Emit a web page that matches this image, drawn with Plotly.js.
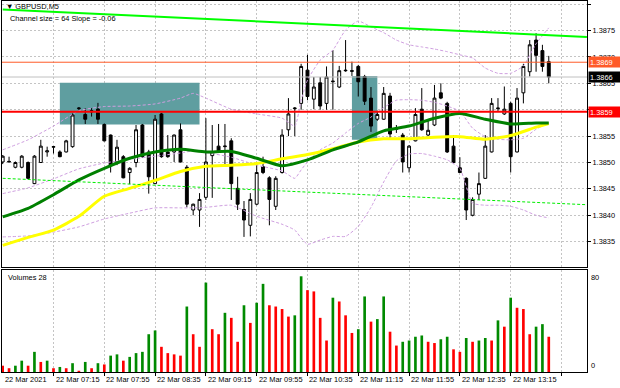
<!DOCTYPE html>
<html><head><meta charset="utf-8">
<script src="https://cdn.plot.ly/plotly-3.0.1.min.js"></script>
<style>html,body{margin:0;padding:0;background:#fff;}#chart{width:620px;height:388px;}</style>
</head><body><div id="chart"></div>
<script>
// ---- candle data (GBPUSD M5, 22 Mar 2021, 06:35 ... 13:45) ----
const barOpen = [1.38501,1.38501,1.38491,1.38491,1.38500,1.38460,1.38500,1.38520,1.38529,1.38520,
1.38520,1.38530,1.38602,1.38591,1.38596,1.38601,1.38572,1.38552,1.38501,1.38511,
1.38481,1.38500,1.38571,1.38520,1.38460,1.38592,1.38520,1.38520,1.38562,1.38491,
1.38410,1.38410,1.38434,1.38513,1.38531,1.38530,1.38541,1.38451,1.38411,1.38381,
1.38421,1.38492,1.38471,1.38417,1.38481,1.38562,1.38602,1.38612,1.38675,1.38620,
1.38651,1.38612,1.38653,1.38643,1.38675,1.38674,1.38682,1.38663,1.38622,1.38582,
1.38582,1.38626,1.38563,1.38552,1.38490,1.38541,1.38601,1.38552,1.38571,1.38632,
1.38612,1.38531,1.38490,1.38470,1.38400,1.38440,1.38470,1.38520,1.38602,1.38592,
1.38612,1.38520,1.38632,1.38672,1.38732,1.38712,1.38691];
const barHigh = [1.38514,1.38511,1.38502,1.38514,1.38502,1.38514,1.38543,1.38530,1.38531,1.38523,
1.38543,1.38593,1.38605,1.38603,1.38603,1.38613,1.38574,1.38553,1.38543,1.38514,
1.38491,1.38571,1.38573,1.38524,1.38590,1.38594,1.38552,1.38553,1.38574,1.38495,
1.38422,1.38442,1.38584,1.38571,1.38573,1.38573,1.38546,1.38473,1.38427,1.38442,
1.38501,1.38511,1.38474,1.38474,1.38563,1.38622,1.38605,1.38687,1.38704,1.38662,
1.38662,1.38682,1.38713,1.38683,1.38732,1.38691,1.38685,1.38666,1.38643,1.38598,
1.38643,1.38632,1.38571,1.38556,1.38533,1.38603,1.38641,1.38579,1.38647,1.38650,
1.38615,1.38552,1.38510,1.38472,1.38434,1.38481,1.38552,1.38622,1.38622,1.38644,
1.38615,1.38641,1.38687,1.38732,1.38745,1.38723,1.38702];
const barLow = [1.38497,1.38500,1.38489,1.38489,1.38469,1.38459,1.38499,1.38511,1.38517,1.38510,
1.38519,1.38528,1.38599,1.38573,1.38587,1.38573,1.38540,1.38481,1.38495,1.38470,
1.38459,1.38491,1.38509,1.38441,1.38459,1.38509,1.38509,1.38501,1.38500,1.38415,
1.38400,1.38378,1.38429,1.38433,1.38519,1.38492,1.38429,1.38410,1.38359,1.38360,
1.38419,1.38478,1.38381,1.38410,1.38479,1.38550,1.38550,1.38600,1.38618,1.38601,
1.38600,1.38600,1.38600,1.38641,1.38672,1.38664,1.38625,1.38609,1.38558,1.38579,
1.38581,1.38543,1.38556,1.38481,1.38481,1.38540,1.38560,1.38550,1.38569,1.38620,
1.38518,1.38497,1.38480,1.38391,1.38398,1.38429,1.38469,1.38519,1.38596,1.38590,
1.38481,1.38519,1.38612,1.38663,1.38672,1.38672,1.38650];
const barClose = [1.38512,1.38502,1.38500,1.38512,1.38470,1.38512,1.38531,1.38522,1.38530,1.38511,
1.38541,1.38590,1.38603,1.38582,1.38598,1.38582,1.38541,1.38495,1.38529,1.38471,
1.38489,1.38562,1.38511,1.38473,1.38582,1.38511,1.38511,1.38552,1.38501,1.38421,
1.38421,1.38430,1.38501,1.38520,1.38520,1.38531,1.38460,1.38421,1.38391,1.38430,
1.38481,1.38481,1.38430,1.38470,1.38552,1.38592,1.38603,1.38682,1.38625,1.38643,
1.38607,1.38662,1.38654,1.38674,1.38674,1.38673,1.38653,1.38616,1.38569,1.38591,
1.38631,1.38554,1.38564,1.38501,1.38531,1.38591,1.38562,1.38561,1.38622,1.38622,
1.38520,1.38500,1.38481,1.38410,1.38430,1.38460,1.38531,1.38612,1.38603,1.38601,
1.38511,1.38622,1.38682,1.38723,1.38703,1.38682,1.38662];
const volume = [5,3,5,9,5,16,8,9,3,4,3,7,1,8,3,7,6,13,14,9,
12,15,16,30,33,20,15,14,13,52,30,20,71,34,30,47,43,24,53,39,
55,70,53,52,50,44,45,76,65,64,43,25,59,56,45,31,34,60,40,42,
60,32,21,24,25,28,29,24,23,26,28,18,16,27,24,25,27,25,41,36,
59,51,50,30,36,38,28];

// ---- indicator lines (bar index -> price) ----
const bandIdx = [0,4,8,12,16,20,24,28,30,32,36,40,44,46,47,48,50,52,54,56,58,60,62,64,66,68,70,72,74,76,78,80,82,84,86];
const bandUpper = [1.38524,1.38543,1.38569,1.38598,1.38606,1.38607,1.38611,1.38622,1.38631,1.38622,1.38601,1.38592,1.38584,1.38569,1.38618,1.38656,1.38694,1.38713,1.38751,1.38768,1.38757,1.38746,1.38732,1.38723,1.38719,1.38715,1.38710,1.38704,1.38698,1.38679,1.38669,1.38669,1.38683,1.38725,1.38755];
const bandMiddle = [1.38441,1.38452,1.38469,1.38488,1.38499,1.38506,1.38512,1.38518,1.38522,1.38519,1.38510,1.38495,1.38484,1.38470,1.38486,1.38501,1.38524,1.38537,1.38556,1.38574,1.38586,1.38604,1.38618,1.38619,1.38618,1.38614,1.38607,1.38597,1.38565,1.38549,1.38544,1.38543,1.38546,1.38563,1.38575];
const bandLower = [1.38359,1.38361,1.38368,1.38378,1.38393,1.38404,1.38414,1.38414,1.38414,1.38415,1.38419,1.38398,1.38383,1.38372,1.38357,1.38345,1.38353,1.38360,1.38360,1.38379,1.38415,1.38463,1.38503,1.38516,1.38517,1.38512,1.38505,1.38489,1.38423,1.38419,1.38419,1.38417,1.38410,1.38400,1.38395];
const maIdx = [0,4,8,12,16,20,24,28,32,36,40,44,48,52,56,60,64,68,72,76,80,84,86];
const maGreen = [1.38397,1.38413,1.38439,1.38467,1.38489,1.38508,1.38520,1.38525,1.38520,1.38521,1.38508,1.38494,1.38505,1.38524,1.38539,1.38560,1.38569,1.38584,1.38593,1.38582,1.38573,1.38575,1.38575];
const maYellow = [1.38343,1.38358,1.38372,1.38398,1.38436,1.38451,1.38466,1.38483,1.38493,1.38495,1.38498,1.38507,1.38515,1.38526,1.38539,1.38545,1.38545,1.38548,1.38549,1.38544,1.38551,1.38567,1.38574];

// ---- chart objects ----
const channelIdx = [0, 92];
const channelTop = [1.38790, 1.38738];
const channelBottom = [1.38470, 1.38420];
const zoneStart = [9, 55];
const zoneEnd = [31, 59];
const zoneHigh = [1.38651, 1.38664];
const zoneLow = [1.38572, 1.38543];
const levelPrice = [1.3869, 1.38596];
const levelText = ['1.3869', '1.3859'];
const priceTicks = [1.3835,1.3840,1.3845,1.3850,1.3855,1.3860,1.3865,1.3870,1.3875,1.3880];
const priceTickText = ['1.3835','1.3840','1.3845','1.3850','1.3855','','1.3865','1.3870','1.3875','1.3880'];
const timeIdx = [0,8,16,24,32,40,48,56,64,72,80];
const timeLabels = ['22 Mar 2021','22 Mar 07:15','22 Mar 07:55','22 Mar 08:35','22 Mar 09:15','22 Mar 09:55','22 Mar 10:35','22 Mar 11:15','22 Mar 11:55','22 Mar 12:35','22 Mar 13:15'];
const symbolText = '\u25BC GBPUSD,M5';
const channelText = 'Channel size = 64 Slope = -0.06';

// ---- build ----
const W = 620, H = 388, ML = 2, MR = 33, MT = 1, MB = 16;
const PW = W - ML - MR, PH = H - MT - MB;
const px2x = p => (p - ML) / PW;
const px2y = p => (H - MB - p) / PH;
const FONT = 'Liberation Sans, Arial, sans-serif';
const FS = 7.4;
const N = barClose.length;
const idx = Array.from({length: N}, (_, i) => i);
const volColors = volume.map((v, i) => (i > 0 && v > volume[i - 1]) ? '#008a00' : '#ff0000');
const gridIdx = [8,16,24,32,40,48,56,64,72,80,88];
const xr = [-0.11, 92.02];
const VIOLET = '#cf9fe0';

const traces = [
  {type:'candlestick', x:idx, open:barOpen, high:barHigh, low:barLow, close:barClose,
   xaxis:'x', yaxis:'y', whiskerwidth:0, hoverinfo:'skip', showlegend:false,
   increasing:{line:{color:'#000', width:1}, fillcolor:'#ffffff'},
   decreasing:{line:{color:'#000', width:1}, fillcolor:'#000000'}},
  {type:'scatter', mode:'lines', x:bandIdx, y:bandUpper, xaxis:'x', yaxis:'y', line:{color:VIOLET, width:1, dash:'3px,2px', shape:'spline', smoothing:0.5}, hoverinfo:'skip'},
  {type:'scatter', mode:'lines', x:bandIdx, y:bandMiddle, xaxis:'x', yaxis:'y', line:{color:VIOLET, width:1, dash:'3px,2px', shape:'spline', smoothing:0.5}, hoverinfo:'skip'},
  {type:'scatter', mode:'lines', x:bandIdx, y:bandLower, xaxis:'x', yaxis:'y', line:{color:VIOLET, width:1, dash:'3px,2px', shape:'spline', smoothing:0.5}, hoverinfo:'skip'},
  {type:'scatter', mode:'lines', x:maIdx, y:maYellow, xaxis:'x', yaxis:'y', line:{color:'#ffff00', width:3, shape:'spline', smoothing:0.6}, hoverinfo:'skip'},
  {type:'scatter', mode:'lines', x:maIdx, y:maGreen, xaxis:'x', yaxis:'y', line:{color:'#008000', width:3, shape:'spline', smoothing:0.6}, hoverinfo:'skip'},
  {type:'scatter', mode:'lines', x:channelIdx, y:channelTop, xaxis:'x', yaxis:'y', line:{color:'#00ff00', width:2}, hoverinfo:'skip'},
  {type:'scatter', mode:'lines', x:channelIdx, y:channelBottom, xaxis:'x', yaxis:'y', line:{color:'#00ee00', width:1, dash:'3px,2px'}, hoverinfo:'skip'},
  {type:'bar', x:idx, y:volume, xaxis:'x2', yaxis:'y2', width:0.42, marker:{color:volColors, line:{width:0}}, hoverinfo:'skip'}
];

const shapes = [];
zoneStart.forEach((s, k) => shapes.push({type:'rect', xref:'x', yref:'y', x0:s, x1:zoneEnd[k], y0:zoneLow[k], y1:zoneHigh[k],
  fillcolor:'#5f9ea0', line:{width:0}, layer:'between'}));
const levelColors = ['#ff5a28', '#ff0000'];
const levelWidths = [1, 2];
levelPrice.forEach((p, k) => shapes.push({type:'line', xref:'paper', yref:'y', x0:0, x1:1, y0:p, y1:p,
  line:{color:levelColors[k], width:levelWidths[k]}, layer:'above'}));
const bid = barClose[N - 1];
shapes.push({type:'line', xref:'paper', yref:'y', x0:0, x1:1, y0:bid, y1:bid, line:{color:'#c0c0c0', width:1}, layer:'above'});

const annotations = [];
const boxLabel = (y, text, bg) => ({xref:'paper', yref:'y', x:1, y:y, xanchor:'left', yanchor:'middle', xshift:1,
  text:text, showarrow:false, bgcolor:bg, borderpad:1, width:30, height:8, align:'left',
  font:{family:FONT, size:FS, color:'#ffffff'}});
annotations.push(boxLabel(levelPrice[0], levelText[0], '#ff5a28'));
annotations.push(boxLabel(bid, bid.toFixed(4), '#000000'));
annotations.push(boxLabel(levelPrice[1], levelText[1], '#ff0000'));
annotations.push({xref:'paper', yref:'paper', x:px2x(4), y:px2y(6.5), xanchor:'left', yanchor:'middle', text:symbolText, showarrow:false, font:{family:FONT, size:FS, color:'#000'}});
annotations.push({xref:'paper', yref:'paper', x:px2x(7.5), y:px2y(19), xanchor:'left', yanchor:'middle', text:channelText, showarrow:false, font:{family:FONT, size:FS, color:'#000'}});
annotations.push({xref:'paper', yref:'paper', x:px2x(6), y:px2y(277.5), xanchor:'left', yanchor:'middle', text:'Volumes ' + volume[N - 1], showarrow:false, font:{family:FONT, size:FS, color:'#000'}});
annotations.push({xref:'paper', yref:'y2', x:1, y:80, xanchor:'left', yanchor:'top', xshift:2, text:'80', showarrow:false, font:{family:FONT, size:FS, color:'#000'}});
annotations.push({xref:'paper', yref:'y2', x:1, y:0, xanchor:'left', yanchor:'bottom', xshift:2, text:'0', showarrow:false, font:{family:FONT, size:FS, color:'#000'}});
timeIdx.forEach((t, k) => annotations.push({xref:'x2', yref:'paper', x:t, y:px2y(379), xanchor:'left', yanchor:'middle', xshift:0,
  text:timeLabels[k], showarrow:false, font:{family:FONT, size:FS, color:'#000'}}));

const GRID = '#c4c4c4';
const layout = {
  width:W, height:H, margin:{l:ML, r:MR, t:MT, b:MB, pad:0},
  paper_bgcolor:'#ffffff', plot_bgcolor:'#ffffff', showlegend:false, hovermode:false,
  font:{family:FONT, size:FS, color:'#000'}, boxgap:0.35,
  xaxis:{domain:[0,1], range:xr, anchor:'y', tickvals:gridIdx, showticklabels:false, ticks:'',
    showgrid:true, gridcolor:GRID, gridwidth:1, griddash:'2px,2px', zeroline:false,
    showline:true, mirror:true, linecolor:'#000', linewidth:1, rangeslider:{visible:false}, fixedrange:true},
  yaxis:{domain:[px2y(267), 1], range:[1.38302, 1.38806], anchor:'x', side:'right', tickvals:priceTicks, ticktext:priceTickText,
    ticks:'outside', ticklen:3, tickcolor:'#000', tickfont:{family:FONT, size:FS, color:'#000'},
    showgrid:true, gridcolor:GRID, gridwidth:1, griddash:'2px,2px', zeroline:false,
    showline:true, mirror:true, linecolor:'#000', linewidth:1, fixedrange:true},
  xaxis2:{domain:[0,1], range:xr, anchor:'y2', tickvals:gridIdx, showticklabels:false, ticks:'outside', ticklen:3, tickcolor:'#000',
    showgrid:true, gridcolor:GRID, gridwidth:1, griddash:'2px,2px', zeroline:false,
    showline:true, mirror:true, linecolor:'#000', linewidth:1, fixedrange:true},
  yaxis2:{domain:[0, px2y(270)], range:[0, 81], anchor:'x2', side:'right', showticklabels:false, ticks:'',
    showgrid:false, zeroline:false, showline:true, mirror:true, linecolor:'#000', linewidth:1, fixedrange:true},
  shapes:shapes, annotations:annotations
};

Plotly.newPlot('chart', traces, layout, {staticPlot:true, displayModeBar:false});
</script>
</body></html>
